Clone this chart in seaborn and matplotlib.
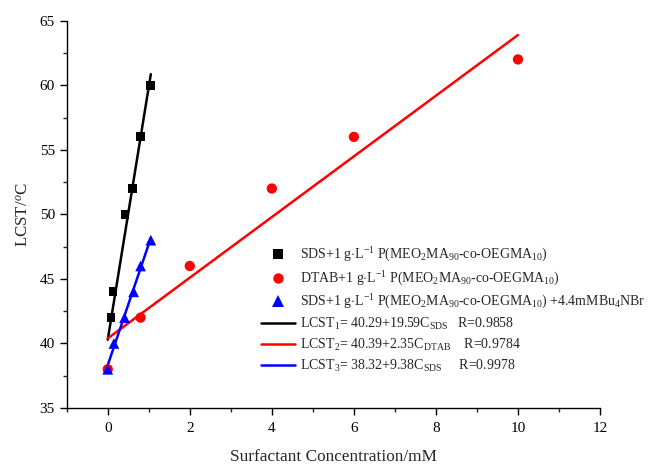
import numpy as np
import pandas as pd
import matplotlib
matplotlib.use("Agg")
import matplotlib.pyplot as plt
from matplotlib.ticker import MultipleLocator
from matplotlib.lines import Line2D
import seaborn as sns

# Measured LCST values for each surfactant system
sds_conc = [0.08, 0.13, 0.42, 0.61, 0.80, 1.05]
sds_lcst = [42, 44, 50, 52, 56, 60]

dtab_conc = [0.0, 0.8, 2.0, 4.0, 6.0, 10.0]
dtab_lcst = [38, 42, 46, 52, 56, 62]

sds_salt_conc = [0.0, 0.15, 0.41, 0.63, 0.80, 1.05]
sds_salt_lcst = [38, 40, 42, 44, 46, 48]

# Linear fits: LCST = intercept + slope * C
fit_intercepts = [40.29, 40.39, 38.32]
fit_slopes = [19.59, 2.35, 9.38]
fit_ranges = [(0.0, 1.05), (0.0, 10.0), (0.0, 1.05)]

series_labels = [
    r"SDS+1 g$\cdot$L$^{-1}$ P(MEO$_2$MA$_{90}$-co-OEGMA$_{10}$)",
    r"DTAB+1 g$\cdot$L$^{-1}$ P(MEO$_2$MA$_{90}$-co-OEGMA$_{10}$)",
    r"SDS+1 g$\cdot$L$^{-1}$ P(MEO$_2$MA$_{90}$-co-OEGMA$_{10}$) +4.4mMBu$_4$NBr",
]
fit_labels = [
    r"LCST$_1$= 40.29+19.59C$_{\rm SDS}$   R=0.9858",
    r"LCST$_2$= 40.39+2.35C$_{\rm DTAB}$    R=0.9784",
    r"LCST$_3$= 38.32+9.38C$_{\rm SDS}$     R=0.9978",
]

colors = ["black", "red", "blue"]
markers = ["s", "o", "^"]

sns.set_style("ticks")
plt.rcParams["font.family"] = ["Liberation Serif", "DejaVu Serif"]
plt.rcParams["mathtext.fontset"] = "custom"
plt.rcParams["mathtext.rm"] = "Liberation Serif"
plt.rcParams["mathtext.it"] = "Liberation Serif:italic"
plt.rcParams["mathtext.bf"] = "Liberation Serif:bold"

fig = plt.figure(figsize=(6.51, 4.65), dpi=100)
ax = fig.add_axes([0.1025, 0.1226, 0.8192, 0.8329])

frames = []
for name, xs, ys in [("sds", sds_conc, sds_lcst),
                     ("dtab", dtab_conc, dtab_lcst),
                     ("salt", sds_salt_conc, sds_salt_lcst)]:
    frames.append(pd.DataFrame({"conc": xs, "lcst": ys, "set": name}))

# fit lines first so the markers sit on top
for i in range(3):
    x0, x1 = fit_ranges[i]
    xf = np.array([x0, x1])
    yf = fit_intercepts[i] + fit_slopes[i] * xf
    sns.lineplot(x=xf, y=yf, ax=ax, color=colors[i], linewidth=1.8, zorder=2)

sizes = [40, 55, 60]
order = [1, 0, 2]
for i in order:
    sns.scatterplot(data=frames[i], x="conc", y="lcst", ax=ax, marker=markers[i],
                    color=colors[i], s=sizes[i], edgecolor="none", zorder=3)

ax.set_xlim(-1, 12)
ax.set_ylim(35, 65)
ax.xaxis.set_major_locator(MultipleLocator(2))
ax.xaxis.set_minor_locator(MultipleLocator(1))
ax.yaxis.set_major_locator(MultipleLocator(5))
ax.yaxis.set_minor_locator(MultipleLocator(2.5))
ax.tick_params(which="major", direction="out", length=5, width=1, labelsize=11, colors="black")
ax.tick_params(axis="x", which="major", pad=5)
ax.tick_params(which="minor", direction="out", length=3, width=1)
for side in ["top", "right"]:
    ax.spines[side].set_visible(False)
for side in ["left", "bottom"]:
    ax.spines[side].set_linewidth(1.0)
    ax.spines[side].set_color("black")

ax.set_xlabel("Surfactant Concentration/mM", fontsize=12.4, labelpad=10)
ax.set_ylabel(r"LCST/$^o$C", fontsize=12.2, labelpad=6)

handles = []
for i in range(3):
    handles.append(Line2D([], [], linestyle="none", marker=markers[i], color=colors[i],
                          markersize=[6.5, 7.5, 8][i], markeredgewidth=0))
for i in range(3):
    handles.append(Line2D([], [], color=colors[i], linewidth=1.8))

leg = ax.legend(handles, series_labels + fit_labels, loc="upper left",
                bbox_to_anchor=(0.365, 0.418), frameon=False, fontsize=10,
                handlelength=2.4, handletextpad=0.4, labelspacing=0.36,
                borderpad=0, borderaxespad=0)

fig.savefig("out.png", dpi=100)
